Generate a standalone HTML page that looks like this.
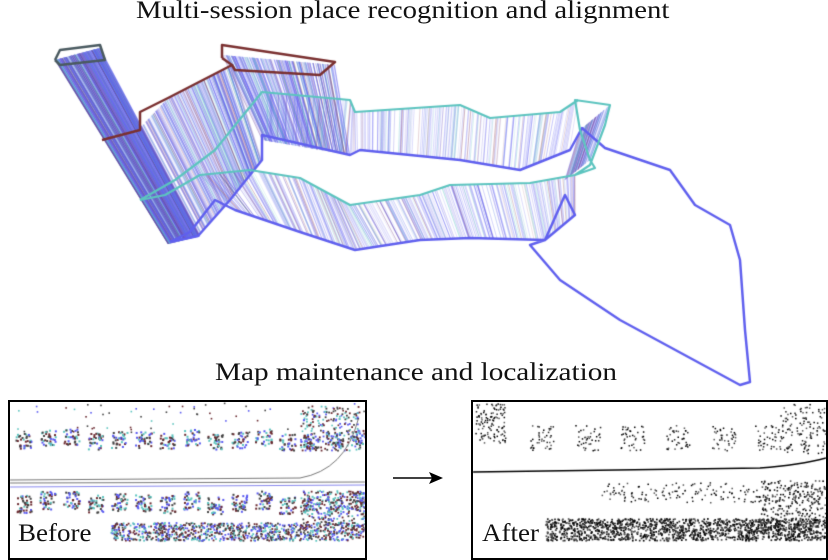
<!DOCTYPE html>
<html><head><meta charset="utf-8"><style>
body{margin:0;width:828px;height:552px;background:#fff;overflow:hidden;position:relative;font-family:"Liberation Serif",serif}
.t{position:absolute;font-size:25px;color:#111;white-space:nowrap;transform-origin:0 0}
canvas{position:absolute;left:0;top:0}
.box{position:absolute;border:2px solid #000;box-sizing:border-box}
</style></head><body>
<canvas id="c" width="828" height="552"></canvas>
<div class="t" style="left:136px;top:-3px;transform:scaleX(1.15)">Multi-session place recognition and alignment</div>
<div class="t" style="left:215px;top:359px;transform:scaleX(1.17)">Map maintenance and localization</div>
<div class="box" style="left:8px;top:400px;width:359px;height:160px"></div>
<div class="box" style="left:471px;top:400px;width:357px;height:160px"></div>
<div class="t" style="left:18px;top:520px;transform:scaleX(1.08)">Before</div>
<div class="t" style="left:482px;top:520px;transform:scaleX(1.08)">After</div>
<svg style="position:absolute;left:0;top:0" width="828" height="552">
<line x1="393" y1="478" x2="432" y2="478" stroke="#000" stroke-width="1.5"/>
<polygon points="443,478 429,472 432,478 429,484" fill="#000"/>
</svg>
<script>
var c=document.getElementById('c').getContext('2d');
var seed=7;function R(){seed=(seed*16807)%2147483647;return seed/2147483647;}
function pt(p,t){var L=[],tot=0;for(var i=1;i<p.length;i++){var d=Math.hypot(p[i][0]-p[i-1][0],p[i][1]-p[i-1][1]);L.push(d);tot+=d;}
var s=t*tot;for(var i=0;i<L.length;i++){if(s<=L[i]||i==L.length-1){var f=L[i]?Math.min(1,s/L[i]):0;return[p[i][0]+(p[i+1][0]-p[i][0])*f,p[i][1]+(p[i+1][1]-p[i][1])*f];}s-=L[i];}}
var cols=['rgba(90,90,240,','rgba(80,190,190,','rgba(130,40,60,','rgba(110,100,220,'];
function wall(top,bot,n,op){for(var i=0;i<n;i++){var t=R();var a=pt(top,t),b=pt(bot,t);var k=R();var col=k<0.55?cols[0]:k<0.75?cols[3]:k<0.9?cols[1]:cols[2];c.strokeStyle=col+(op*(0.3+R()*0.7))+')';c.lineWidth=0.7;c.beginPath();c.moveTo(a[0],a[1]);c.lineTo(b[0],b[1]);c.stroke();}}
wall([[55,60],[100,48]],[[168,244],[200,236]],400,0.6);
wall([[140,128],[168,98],[232,65]],[[198,236],[230,200],[262,160]],280,0.5);
wall([[222,55],[335,65]],[[262,140],[350,155]],260,0.55);
wall([[262,92],[350,100],[355,112],[460,105],[490,118],[560,112],[578,100]],[[262,135],[350,155],[360,150],[460,160],[520,170],[570,150]],260,0.45);
wall([[200,175],[250,170],[300,178],[350,205],[420,195],[450,185],[530,183],[575,175]],[[235,210],[300,232],[355,250],[420,240],[470,238],[545,240],[575,215]],420,0.45);
wall([[580,130],[610,105]],[[565,180],[590,160]],80,0.5);
function line(p,col,w){c.strokeStyle=col;c.lineWidth=w;c.lineJoin='round';c.beginPath();c.moveTo(p[0][0],p[0][1]);for(var i=1;i<p.length;i++)c.lineTo(p[i][0],p[i][1]);c.stroke();}
var blue='#6060ee';
line([[170,242],[198,236],[230,200],[262,160],[262,135],[350,155],[360,150],[460,160],[520,170],[570,150],[582,128],[605,148],[670,170],[695,205],[730,225],[740,260],[745,330],[750,382],[740,385],[620,320],[560,280],[530,245],[545,240],[575,215],[565,195],[545,240],[470,238],[420,240],[355,250],[300,232],[235,210],[215,200],[190,232],[170,242]],blue,2.5);
var cy='#5cc4bf';
line([[140,200],[165,195],[200,175],[250,170],[300,178],[350,205],[420,195],[450,185],[530,183],[575,175],[595,168],[590,160],[580,130],[575,100],[610,105],[605,125],[590,165],[575,175]],cy,2.2);
line([[140,200],[175,180],[215,150],[262,92],[350,100],[355,112],[460,105],[490,118],[560,112],[578,100]],cy,2.2);
var mr='#7a3030';
line([[102,140],[140,130],[140,112],[168,98],[232,65],[222,58]],mr,2.5);
line([[222,58],[222,45],[335,62],[320,75],[235,70],[232,65]],mr,2.5);
line([[55,60],[60,50],[100,45],[105,60],[60,65],[55,60]],'#4a5a60',2.5);
function scatter(x0,y0,w,h,n,colsArr,s){for(var i=0;i<n;i++){c.fillStyle=colsArr[Math.floor(R()*colsArr.length)];c.fillRect(x0+R()*w,y0+R()*h,s,s);}}
var L=['#5a5af0','#5cc4bf','#6a2a30','#444'];
c.save();c.beginPath();c.rect(10,402,355,150);c.clip();
for(var x=15;x<360;x+=24){var yo=R()*6;scatter(x,428+yo,16,16,35,L,2);scatter(x,490+yo,16,18,40,L,2);}
scatter(10,402,355,30,70,L,1.6);
scatter(300,405,60,45,220,L,1.8);
scatter(110,522,255,18,1000,L,1.8);
scatter(300,490,65,35,250,L,1.8);
c.strokeStyle='#777';c.lineWidth=1;c.beginPath();c.moveTo(10,480);c.lineTo(300,478);c.quadraticCurveTo(345,470,358,420);c.stroke();
c.beginPath();c.moveTo(10,483);c.lineTo(365,482);c.stroke();
c.strokeStyle='#8888ee';c.beginPath();c.moveTo(10,487);c.lineTo(365,485);c.stroke();
c.restore();
var B=['#000','#222','#555'];
c.save();c.beginPath();c.rect(473,402,353,150);c.clip();
scatter(475,403,30,40,120,B,1.5);
for(var x=530;x<800;x+=45){scatter(x,425,25,25,40,B,1.5);}
scatter(780,403,45,50,130,B,1.5);
for(var x=600;x<826;x+=30){scatter(x,482,28,20,25,B,1.5);}
scatter(760,480,66,50,250,B,1.6);
scatter(545,518,280,22,1500,B,1.7);
c.strokeStyle='#000';c.lineWidth=1.3;c.beginPath();c.moveTo(473,472);c.lineTo(760,468);c.quadraticCurveTo(800,465,826,458);c.stroke();
c.restore();
</script>
</body></html>
